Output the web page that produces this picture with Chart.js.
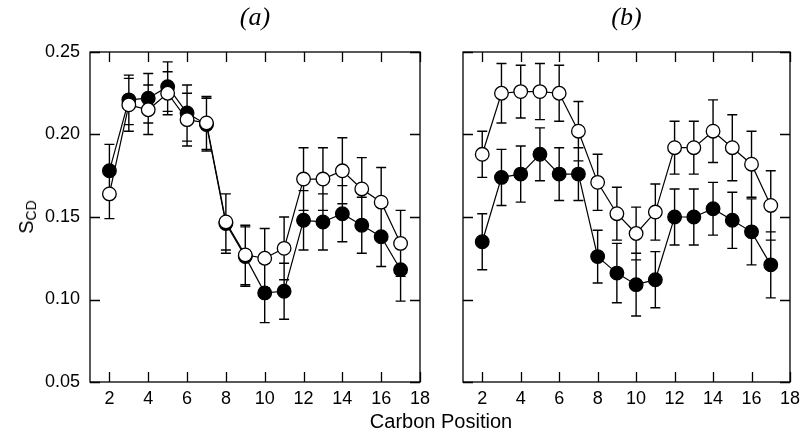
<!DOCTYPE html>
<html>
<head>
<meta charset="utf-8">
<script src="https://cdn.jsdelivr.net/npm/chart.js@4.4.1/dist/chart.umd.min.js"></script>
<style>
    html, body { margin: 0; padding: 0; background: #fff; overflow: hidden; }
    #wrap { position: relative; width: 802px; height: 439px; }
    canvas { position: absolute; top: 0; }
    #chartA { left: 0; }
    #chartB { left: 440px; }
    .axis-label {
        position: absolute;
        font-family: "Liberation Sans", Arial, sans-serif;
        font-size: 20px;
        color: #000;
        white-space: nowrap;
        transform: translate(-50%, -50%);
    }
    #ylabel { left: 27px; top: 217px; transform: translate(-50%, -50%) rotate(-90deg); }
    #ylabel sub { font-size: 14px; vertical-align: -3px; }
    #xlabel { left: 441px; top: 421px; }
</style>
</head>
<body>
<div id="wrap">
    <canvas id="chartA" width="440" height="439"></canvas>
    <canvas id="chartB" width="366" height="439"></canvas>
    <div id="ylabel" class="axis-label">S<sub>CD</sub></div>
    <div id="xlabel" class="axis-label">Carbon Position</div>
</div>

<script>
// carbon positions along the chain
const positions = [2, 3, 4, 5, 6, 7, 8, 9, 10, 11, 12, 13, 14, 15, 16, 17];

const xTicks = [2, 4, 6, 8, 10, 12, 14, 16, 18];
const yTicks = [0.05, 0.10, 0.15, 0.20, 0.25];
const yTickLabels = ["0.05", "0.10", "0.15", "0.20", "0.25"];

// panel (a)
const openA = [0.164, 0.218, 0.215, 0.225, 0.209, 0.207, 0.147, 0.127, 0.125, 0.131, 0.173, 0.173, 0.178, 0.167, 0.159, 0.134];
const openAErr = [0.015, 0.016, 0.015, 0.013, 0.016, 0.016, 0.017, 0.018, 0.018, 0.019, 0.019, 0.019, 0.020, 0.019, 0.021, 0.020];
const filledA = [0.178, 0.221, 0.222, 0.229, 0.213, 0.206, 0.146, 0.126, 0.104, 0.105, 0.148, 0.147, 0.152, 0.145, 0.138, 0.118];
const filledAErr = [0.016, 0.015, 0.015, 0.015, 0.017, 0.016, 0.018, 0.018, 0.018, 0.017, 0.018, 0.017, 0.017, 0.017, 0.018, 0.019];

// panel (b)
const openB = [0.188, 0.225, 0.226, 0.226, 0.225, 0.202, 0.171, 0.152, 0.140, 0.153, 0.192, 0.192, 0.202, 0.192, 0.182, 0.157];
const openBErr = [0.014, 0.018, 0.016, 0.017, 0.017, 0.018, 0.017, 0.016, 0.016, 0.017, 0.016, 0.016, 0.019, 0.020, 0.020, 0.021];
const filledB = [0.135, 0.174, 0.176, 0.188, 0.176, 0.176, 0.126, 0.116, 0.109, 0.112, 0.150, 0.150, 0.155, 0.148, 0.141, 0.121];
const filledBErr = [0.017, 0.017, 0.017, 0.016, 0.016, 0.016, 0.016, 0.018, 0.019, 0.017, 0.017, 0.017, 0.016, 0.017, 0.020, 0.020];

const tickFont = { family: "'Liberation Sans', Arial, sans-serif", size: 18 };

// frame, inward ticks on all four sides and error bars, drawn under the markers
const framePlugin = {
    id: "frameAndErrors",
    beforeDatasetsDraw(chart) {
        const ctx = chart.ctx;
        const area = chart.chartArea;
        const xs = chart.scales.x;
        const ys = chart.scales.y;
        const tickLen = 10;

        ctx.save();
        ctx.strokeStyle = "#000";
        ctx.lineWidth = 1.3;
        ctx.strokeRect(area.left, area.top, area.right - area.left, area.bottom - area.top);

        ctx.beginPath();
        xTicks.forEach(v => {
            const px = Math.round(xs.getPixelForValue(v)) + 0.5;
            ctx.moveTo(px, area.bottom);
            ctx.lineTo(px, area.bottom - tickLen);
            ctx.moveTo(px, area.top);
            ctx.lineTo(px, area.top + tickLen);
        });
        yTicks.forEach(v => {
            const py = Math.round(ys.getPixelForValue(v)) + 0.5;
            ctx.moveTo(area.left, py);
            ctx.lineTo(area.left + tickLen, py);
            ctx.moveTo(area.right, py);
            ctx.lineTo(area.right - tickLen, py);
        });
        ctx.stroke();

        // error bars with caps
        ctx.lineWidth = 1.4;
        ctx.beginPath();
        chart.data.datasets.forEach(ds => {
            ds.data.forEach((p, i) => {
                const err = ds.errors[i];
                const px = xs.getPixelForValue(p.x);
                const top = ys.getPixelForValue(p.y + err);
                const bot = ys.getPixelForValue(p.y - err);
                ctx.moveTo(px, top);
                ctx.lineTo(px, bot);
                ctx.moveTo(px - 5, top);
                ctx.lineTo(px + 5, top);
                ctx.moveTo(px - 5, bot);
                ctx.lineTo(px + 5, bot);
            });
        });
        ctx.stroke();
        ctx.restore();
    }
};

function series(values, errors, fill) {
    return {
        data: positions.map((x, i) => ({ x: x, y: values[i] })),
        errors: errors,
        borderColor: "#000",
        borderWidth: 1.2,
        backgroundColor: fill,
        pointBackgroundColor: fill,
        pointBorderColor: "#000",
        pointBorderWidth: 1.3,
        pointRadius: 6.8,
        tension: 0,
        fill: false
    };
}

function makePanel(id, label, open, openErr, filled, filledErr, showY, yWidth, rightPad) {
    const ctx = document.getElementById(id).getContext("2d");
    return new Chart(ctx, {
        type: "line",
        data: {
            // open circles first so they sit on top
            datasets: [
                series(open, openErr, "#fff"),
                series(filled, filledErr, "#000")
            ]
        },
        options: {
            responsive: false,
            animation: false,
            layout: { padding: { top: 0, right: rightPad, bottom: 27, left: 0 } },
            scales: {
                x: {
                    type: "linear",
                    min: 1,
                    max: 18,
                    grid: { display: false, drawTicks: false },
                    border: { display: false },
                    afterBuildTicks: scale => { scale.ticks = xTicks.map(v => ({ value: v })); },
                    afterFit: scale => { scale.height = 30; },
                    ticks: {
                        color: "#000",
                        font: tickFont,
                        padding: 6,
                        maxRotation: 0,
                        callback: v => String(v)
                    }
                },
                y: {
                    type: "linear",
                    min: 0.05,
                    max: 0.25,
                    grid: { display: false, drawTicks: false },
                    border: { display: false },
                    afterBuildTicks: scale => { scale.ticks = yTicks.map(v => ({ value: v })); },
                    afterFit: scale => { scale.width = yWidth; },
                    ticks: {
                        display: showY,
                        color: "#000",
                        font: tickFont,
                        padding: 10,
                        callback: (v, i) => yTickLabels[i]
                    }
                }
            },
            plugins: {
                legend: { display: false },
                tooltip: { enabled: false },
                title: {
                    display: true,
                    text: label,
                    fullSize: false,
                    color: "#000",
                    font: { family: "'Liberation Serif', 'Times New Roman', serif", style: "italic", size: 26, weight: "normal", lineHeight: 1.2 },
                    padding: { top: 3, bottom: 17.8 }
                }
            }
        },
        plugins: [framePlugin]
    });
}

makePanel("chartA", "(a)", openA, openAErr, filledA, filledAErr, true, 90, 20);
makePanel("chartB", "(b)", openB, openBErr, filledB, filledBErr, false, 23, 12);
</script>
</body>
</html>
